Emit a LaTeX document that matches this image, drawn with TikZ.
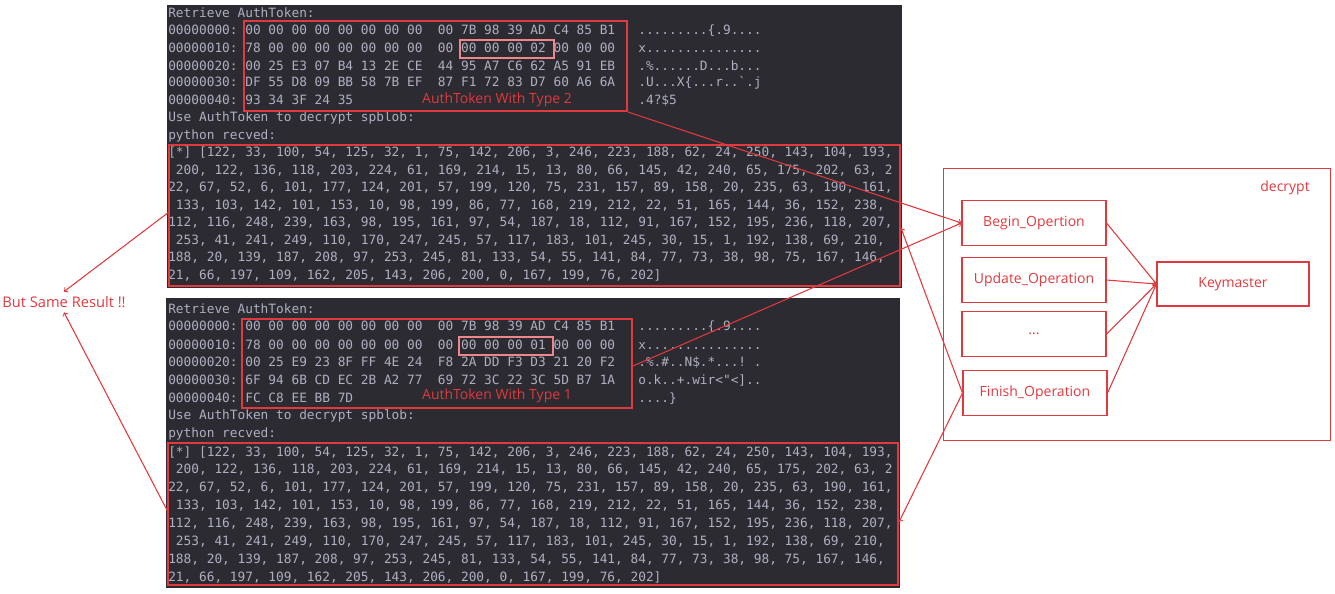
\documentclass[tikz,border=0pt]{standalone}
\usepackage{fontspec}
\setmainfont{Open Sans}
\setmonofont{DejaVu Sans Mono}
\usetikzlibrary{positioning}
\definecolor{termbg}{HTML}{2B2B31}
\definecolor{termfg}{HTML}{AEB0C2}
\definecolor{redmark}{HTML}{E0393E}
% one terminal line: name, row number, first row y, row step, text
\newcommand\tline[5]{\node[termline] (#1) at (168,{#3+#4*#2}) {#5};}
\newcommand\toplines{%
    \tline{top-0}{0}{13}{17.5}{Retrieve AuthToken:}
    \tline{top-1}{1}{13}{17.5}{00000000: 00 00 00 00 00 00 00 00~~00 7B 98 39 AD C4 85 B1~~~.........\{.9....}
    \tline{top-2}{2}{13}{17.5}{00000010: 78 00 00 00 00 00 00 00~~00 00 00 00 02 00 00 00~~~x...............}
    \tline{top-3}{3}{13}{17.5}{00000020: 00 25 E3 07 B4 13 2E CE~~44 95 A7 C6 62 A5 91 EB~~~.\%......D...b...}
    \tline{top-4}{4}{13}{17.5}{00000030: DF 55 D8 09 BB 58 7B EF~~87 F1 72 83 D7 60 A6 6A~~~.U...X\{...r..`.j}
    \tline{top-5}{5}{13}{17.5}{00000040: 93 34 3F 24 35~~~~~~~~~~~~~~~~~~~~~~~~~~~~~~~~~~~~~.4?\$5}
}
\newcommand\botlines{%
    \tline{bot-0}{0}{309}{17.9}{Retrieve AuthToken:}
    \tline{bot-1}{1}{309}{17.9}{00000000: 00 00 00 00 00 00 00 00~~00 7B 98 39 AD C4 85 B1~~~.........\{.9....}
    \tline{bot-2}{2}{309}{17.9}{00000010: 78 00 00 00 00 00 00 00~~00 00 00 00 01 00 00 00~~~x...............}
    \tline{bot-3}{3}{309}{17.9}{00000020: 00 25 E9 23 8F FF 4E 24~~F8 2A DD F3 D3 21 20 F2~~~.\%.\#..N\$.*...! .}
    \tline{bot-4}{4}{309}{17.9}{00000030: 6F 94 6B CD EC 2B A2 77~~69 72 3C 22 3C 5D B7 1A~~~o.k..+.wir<"<]..}
    \tline{bot-5}{5}{309}{17.9}{00000040: FC C8 EE BB 7D~~~~~~~~~~~~~~~~~~~~~~~~~~~~~~~~~~~~~....\}}
}
% decrypted output, same in both terminals
\newcommand\reclines[3]{%
    \tline{#1-6}{6}{#2}{#3}{Use AuthToken to decrypt spblob:}
    \tline{#1-7}{7}{#2}{#3}{python recved:}
    \tline{#1-8}{8}{#2}{#3}{[*] [122, 33, 100, 54, 125, 32, 1, 75, 142, 206, 3, 246, 223, 188, 62, 24, 250, 143, 104, 193,}
    \tline{#1-9}{9}{#2}{#3}{\ 200, 122, 136, 118, 203, 224, 61, 169, 214, 15, 13, 80, 66, 145, 42, 240, 65, 175, 202, 63, 2}
    \tline{#1-10}{10}{#2}{#3}{22, 67, 52, 6, 101, 177, 124, 201, 57, 199, 120, 75, 231, 157, 89, 158, 20, 235, 63, 190, 161,}
    \tline{#1-11}{11}{#2}{#3}{\ 133, 103, 142, 101, 153, 10, 98, 199, 86, 77, 168, 219, 212, 22, 51, 165, 144, 36, 152, 238,}
    \tline{#1-12}{12}{#2}{#3}{112, 116, 248, 239, 163, 98, 195, 161, 97, 54, 187, 18, 112, 91, 167, 152, 195, 236, 118, 207,}
    \tline{#1-13}{13}{#2}{#3}{\ 253, 41, 241, 249, 110, 170, 247, 245, 57, 117, 183, 101, 245, 30, 15, 1, 192, 138, 69, 210,}
    \tline{#1-14}{14}{#2}{#3}{188, 20, 139, 187, 208, 97, 253, 245, 81, 133, 54, 55, 141, 84, 77, 73, 38, 98, 75, 167, 146,}
    \tline{#1-15}{15}{#2}{#3}{21, 66, 197, 109, 162, 205, 143, 206, 200, 0, 167, 199, 76, 202]}
}
\begin{document}
\begin{tikzpicture}[x=0.75pt,y=-0.75pt,
        termline/.style={anchor=west, inner sep=0pt, text=termfg, font=\ttfamily\fontsize{9.6}{11}\selectfont},
        redbox/.style={draw=redmark, thick},
        redlabel/.style={text=redmark, font=\fontsize{10.5}{12}\selectfont},
        opbox/.style={draw=redmark, thick, minimum width=108pt, minimum height=34pt, redlabel},
        redarrow/.style={->, draw=redmark, thick}]

        \useasboundingbox (0,0) rectangle (1335,593);

        % terminals
        \fill[termbg] (167,5) rectangle (902,288);
        \fill[termbg] (166,298) rectangle (900,588);

        \begin{scope}
            \clip (167,5) rectangle (901,288);
            \toplines
            \reclines{top}{13}{17.5}
        \end{scope}

        \begin{scope}
            \clip (166,298) rectangle (898,588);
            \botlines
            \reclines{bot}{309}{17.9}
        \end{scope}

        % red marks on terminals
        \draw[redbox] (244,21) rectangle (627,111);
        \draw[redbox, draw=redmark!60] (460,40) rectangle (554,58);
        \node[redlabel] (type2) at (497,100) {AuthToken With Type 2};
        \draw[redbox] (169,145) rectangle (900,286);
        \coordinate (hex2) at (628,112);
        \coordinate (data2w) at (169,212);
        \coordinate (data2e) at (901,228);

        \draw[redbox] (242,319) rectangle (632,408);
        \draw[redbox, draw=redmark!60] (459,337) rectangle (553,355);
        \node[redlabel] (type1) at (497,396) {AuthToken With Type 1};
        \draw[redbox] (168,443) rectangle (898,585);
        \coordinate (hex1) at (633,366);
        \coordinate (data1w) at (168,512);
        \coordinate (data1e) at (899,522);

        % decrypt block
        \draw[redbox, thin] (943,168) rectangle (1330,440);
        \node[redlabel] (decrypt) at (1285,188) {decrypt};
        \node[opbox] (begin) at (1034,223) {Begin\_Opertion};
        \node[opbox] (update) at (1034,280) {Update\_Operation};
        \node[opbox] (dots) at (1034,334) {...};
        \node[opbox] (finish) at (1035,393) {Finish\_Operation};
        \node[opbox, minimum width=114pt, minimum height=33pt] (keymaster) at (1233,284) {Keymaster};

        \node[redlabel, font=\fontsize{11}{13}\selectfont] (same) at (64,302) {But Same Result !!};

        \draw[redarrow] (hex2) -- (begin.west);
        \draw[redarrow] (hex1) -- (begin.west);
        \draw[redarrow] (finish.west) -- (data2e);
        \draw[redarrow] (finish.west) -- (data1e);
        \draw[redarrow] (data2w) -- (same.north);
        \draw[redarrow] (data1w) -- (same.south);
        \draw[redarrow] (begin.east) -- (keymaster.west);
        \draw[redarrow] (update.east) -- (keymaster.west);
        \draw[redarrow] (dots.east) -- (keymaster.west);
        \draw[redarrow] (finish.east) -- (keymaster.west);
    \end{tikzpicture}
\end{document}
